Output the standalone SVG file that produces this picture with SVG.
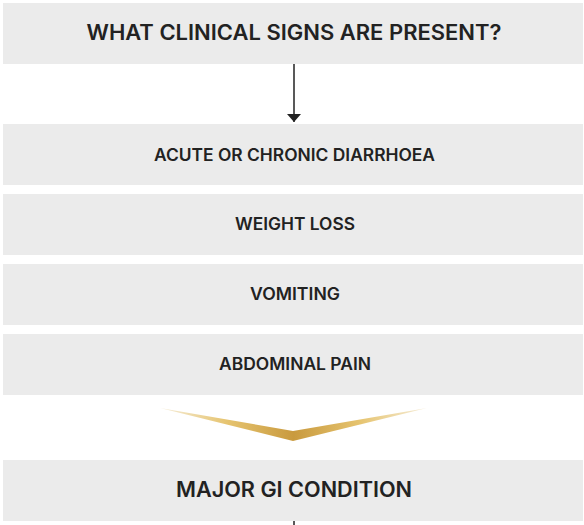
<svg xmlns="http://www.w3.org/2000/svg" width="584" height="525" viewBox="0 0 584 525">
<defs>
<style>
.box{fill:#ebebeb}
.t{font-family:Inter,"Liberation Sans",sans-serif;font-weight:600;fill:#222;text-anchor:middle}
.big{font-size:21px}
.sm{font-size:17px}
.conn{stroke:#222;stroke-width:1.5;fill:none}
</style>
<linearGradient id="gold" x1="160" y1="0" x2="427" y2="0" gradientUnits="userSpaceOnUse">
<stop offset="0" stop-color="#f6eedb"/>
<stop offset="0.25" stop-color="#e6c470"/>
<stop offset="0.5" stop-color="#c99a3e"/>
<stop offset="0.75" stop-color="#e6c470"/>
<stop offset="1" stop-color="#f6eedb"/>
</linearGradient>
<marker id="ah" markerWidth="8" markerHeight="14" refX="8" refY="7" orient="auto" markerUnits="userSpaceOnUse" viewBox="0 0 8 14">
<path d="M0,0 L8,7 L0,14 Z" fill="#222"/>
</marker>
</defs>
<g id="q">
<rect class="box" x="3" y="3" width="580" height="61"/>
<text class="t big" x="294" y="40" textLength="415" lengthAdjust="spacingAndGlyphs">WHAT CLINICAL SIGNS ARE PRESENT?</text>
</g>
<g id="diarrhoea">
<rect class="box" x="3" y="124" width="580" height="61"/>
<text class="t sm" x="294.5" y="160.5" textLength="281" lengthAdjust="spacingAndGlyphs">ACUTE OR CHRONIC DIARRHOEA</text>
</g>
<g id="weight">
<rect class="box" x="3" y="194" width="580" height="61"/>
<text class="t sm" x="295" y="230" textLength="120" lengthAdjust="spacingAndGlyphs">WEIGHT LOSS</text>
</g>
<g id="vomiting">
<rect class="box" x="3" y="264" width="580" height="61"/>
<text class="t sm" x="295" y="300" textLength="90" lengthAdjust="spacingAndGlyphs">VOMITING</text>
</g>
<g id="pain">
<rect class="box" x="3" y="334" width="580" height="61"/>
<text class="t sm" x="295" y="370" textLength="152" lengthAdjust="spacingAndGlyphs">ABDOMINAL PAIN</text>
</g>
<g id="major">
<rect class="box" x="3" y="460" width="580" height="61"/>
<text class="t big" x="294" y="497" textLength="236" lengthAdjust="spacingAndGlyphs">MAJOR GI CONDITION</text>
</g>
<g id="connectors">
<line class="conn" x1="294" y1="64" x2="294" y2="122" marker-end="url(#ah)"/>
<polygon points="160,408 293,431 427,408 293,441" fill="url(#gold)"/>
<line class="conn" x1="294" y1="521" x2="294" y2="525"/>
</g>
</svg>
